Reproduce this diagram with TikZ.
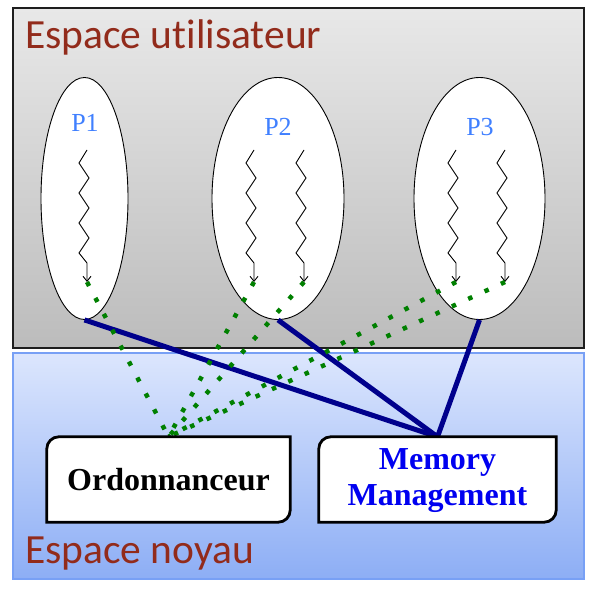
\documentclass[tikz,border=0pt]{standalone}
\usepackage{fontspec}
\setmainfont{Liberation Serif}
\newfontfamily\titlefont[Ligatures={NoCommon}]{Carlito}
\usetikzlibrary{arrows.meta,shapes.geometric}

\definecolor{titlered}{RGB}{146,43,27}
\definecolor{grayTop}{RGB}{232,232,232}
\definecolor{grayBot}{RGB}{188,188,188}
\definecolor{blueTop}{RGB}{220,230,253}
\definecolor{blueBot}{RGB}{141,174,245}
\definecolor{blueEdge}{RGB}{120,160,245}
\definecolor{plabel}{RGB}{64,128,255}
\definecolor{navyline}{RGB}{0,0,140}
\definecolor{dotgreen}{RGB}{0,128,0}
\definecolor{mmblue}{RGB}{0,0,240}

\newcommand\threadpath[2]{%
  \draw[thread] (#1,440) -- ++(-8,-13) -- ++(10,-15) -- ++(-10,-15) -- ++(10,-15)
    -- ++(-10,-15) -- ++(10,-15) -- ++(-10,-15) -- ++(8,-10) -- ++(0,-19) coordinate (#2);
}

\begin{document}
\begin{tikzpicture}[x=1pt,y=1pt,
  region/.style={rectangle, inner sep=0pt, outer sep=0pt, anchor=south west},
  userbox/.style={region, draw={rgb,255:red,30;green,30;blue,30}, line width=1.5pt, top color=grayTop, bottom color=grayBot},
  kernelbox/.style={region, draw=blueEdge, line width=1.2pt, top color=blueTop, bottom color=blueBot},
  proc/.style={ellipse, draw=black, line width=0.9pt, fill=white, inner sep=0pt},
  plab/.style={text=plabel, font=\fontsize{26}{30}\selectfont, inner sep=0pt},
  thread/.style={black, line width=0.9pt, -{Straight Barb[length=5pt,width=8pt]}},
  sched/.style={dotgreen, line width=4.5pt, dash pattern=on 4.5pt off 13.5pt},
  mm/.style={navyline, line width=5pt},
  boxframe/.style={rectangle, inner sep=0pt, draw=none},
  boxline/.style={draw=black, fill=white, line width=2.8pt},
  boxtext/.style={inner sep=0pt, align=center, font=\bfseries\fontsize{32}{36}\selectfont},
  title/.style={text=titlered, font=\titlefont\fontsize{41.5}{48}\selectfont, inner sep=0pt, anchor=base west}
]
\useasboundingbox (0,0) rectangle (591,590);
\fill[white] (0,0) rectangle (591,590);

% regions
\node[userbox, minimum width=571pt, minimum height=340pt] (user) at (13,242) {};
\node[kernelbox, minimum width=571pt, minimum height=226pt] (kernel) at (13,11) {};

\node[title] (tuser) at (25,541) {Espace utilisateur};
\node[title] (tnoyau) at (25,27) {Espace noyau};

% processes
\node[proc, minimum width=87pt, minimum height=242pt] (p1) at (84.5,391.5) {};
\node[proc, minimum width=132pt, minimum height=242pt] (p2) at (278,391.5) {};
\node[proc, minimum width=131pt, minimum height=242pt] (p3) at (479.5,391.5) {};

\node[plab] (l1) at (85,467) {P1};
\node[plab] (l2) at (278,463) {P2};
\node[plab] (l3) at (480,463) {P3};

\threadpath{87}{t1}
\threadpath{254}{t2}
\threadpath{304}{t3}
\threadpath{456}{t4}
\threadpath{505}{t5}

% kernel boxes
\node[boxframe, minimum width=243pt, minimum height=85pt] (ord) at (168.5,110.5) {};
\node[boxframe, minimum width=237pt, minimum height=85pt] (mem) at (437.5,110.5) {};

% memory management links
\draw[mm] (p1.south) -- (mem.north);
\draw[mm] (p2.south) -- (mem.north);
\draw[mm] (p3.south) -- (mem.north);

% scheduler links
\draw[sched] (t1) -- (ord.north);
\draw[sched] (t2) -- (ord.north);
\draw[sched] (t3) -- (ord.north);
\draw[sched] (t4) -- (ord.north);
\draw[sched] (t5) -- (ord.north);

\path[boxline] (ord.north east) -- ([xshift=12pt]ord.north west)
  arc[start angle=90,end angle=180,radius=12pt] -- (ord.south west)
  -- ([xshift=-12pt]ord.south east) arc[start angle=270,end angle=360,radius=12pt] -- cycle;
\path[boxline] (mem.north east) -- ([xshift=12pt]mem.north west)
  arc[start angle=90,end angle=180,radius=12pt] -- (mem.south west)
  -- ([xshift=-12pt]mem.south east) arc[start angle=270,end angle=360,radius=12pt] -- cycle;

\node[boxtext] (ordtext) at (ord.center) {Ordonnanceur};
\node[boxtext, text=mmblue] (memtext) at ([yshift=-1pt]mem.center) {Memory\\Management};
\end{tikzpicture}
\end{document}
